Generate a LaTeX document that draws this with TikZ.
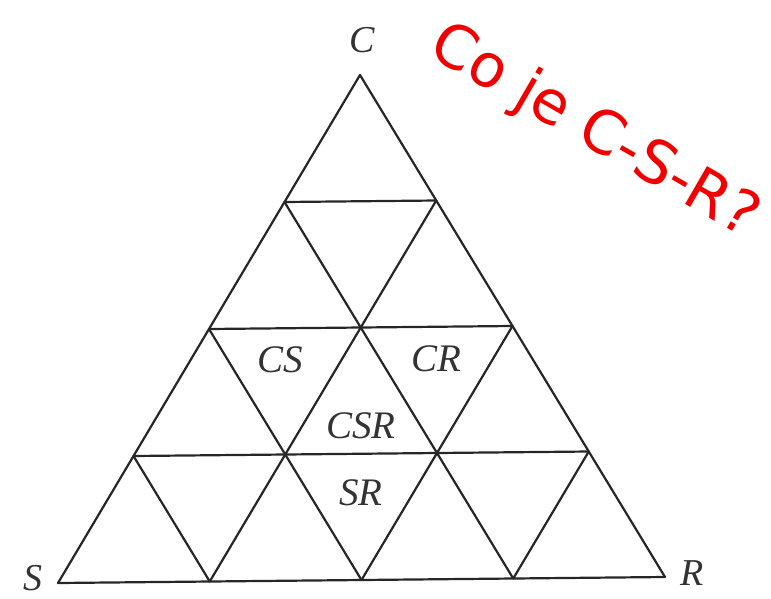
\documentclass[tikz,border=0pt]{standalone}
\usepackage{fontspec}
\setmainfont{Liberation Serif}
\newfontfamily\notefont{DejaVu Sans}
\usepackage{tikz}
\usetikzlibrary{calc}
\definecolor{noteRed}{RGB}{240, 0, 0}

\begin{document}
\begin{tikzpicture}[x=1pt, y=-1pt,
          edge/.style={draw=black!85, line width=2.2pt, line cap=round, line join=round},
          corner/.style={font=\fontsize{38}{40}\selectfont\itshape, text=black!80},
          region/.style={font=\fontsize{39}{41}\selectfont\itshape, text=black!80},
          note/.style={font=\fontsize{60}{62}\selectfont\notefont, text=noteRed, rotate=-30}
        ]
          \useasboundingbox (0,0) rectangle (771,598);
          % corners of the triangle
          \coordinate (S) at (58,583);
          \coordinate (R) at (665,577);
          \coordinate (C) at (360,75);
          % grid points, p<i><j> = S + i/4 (R-S) + j/4 (C-S)
          \foreach \i in {0,...,4} {
            \foreach \j in {0,...,4} {
              \coordinate (p\i\j) at ($(S)!\i/4!(R) + (S)!\j/4!(C) - (S)$);
            }
          }
          % horizontal lines
          \foreach \j [evaluate=\j as \k using int(4-\j)] in {0,...,3}
            \draw[edge] (p0\j) -- (p\k\j);
          % lines parallel to S--C
          \foreach \i [evaluate=\i as \k using int(4-\i)] in {0,...,3}
            \draw[edge] (p\i0) -- (p\i\k);
          % lines parallel to R--C
          \foreach \i in {1,...,4}
            \draw[edge] (p\i0) -- (p0\i);

          \node[corner] (labC) at (362,40) {C};
          \node[corner] (labS) at (33,578) {S};
          \node[corner] (labR) at (692,573) {R};

          \node[region] (cs) at (280,360) {CS};
          \node[region] (cr) at (436,359) {CR};
          \node[region] (csr) at (361,426) {CSR};
          \node[region] (sr) at (361,493) {SR};

          \node[note] (question) at (594,132) {Co je C-S-R?};
        \end{tikzpicture}
\end{document}
